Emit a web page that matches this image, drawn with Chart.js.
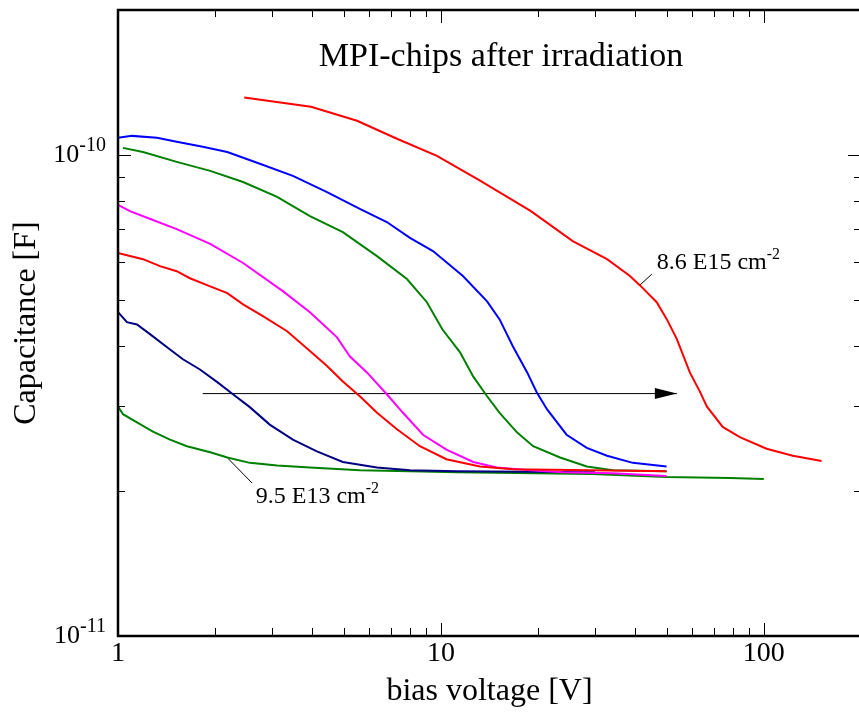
<!DOCTYPE html>
<html>
<head>
<meta charset="utf-8">
<script src="https://cdn.jsdelivr.net/npm/chart.js@4.4.1/dist/chart.umd.min.js"></script>
<style>
  html, body { margin: 0; padding: 0; background: #fff; overflow: hidden; }
  #wrap { width: 859px; height: 712px; overflow: hidden; }
</style>
</head>
<body>
<div id="wrap"><canvas id="cv" width="866" height="712"></canvas></div>
<script>
// bias voltage [V] / capacitance [F]
const redHighV = [2.46, 3.96, 5.50, 7.31, 9.72, 13.1, 19.0, 25.6, 32.7, 38.5, 41.3, 46.6, 50.1, 53.8, 59.0, 63.4, 66.6, 74.6, 84.3, 102, 123, 151];
const redHighC = [1.316e-10, 1.259e-10, 1.177e-10, 1.080e-10, 9.95e-11, 8.87e-11, 7.64e-11, 6.62e-11, 6.07e-11, 5.60e-11, 5.36e-11, 4.94e-11, 4.55e-11, 4.14e-11, 3.53e-11, 3.22e-11, 3.00e-11, 2.72e-11, 2.59e-11, 2.45e-11, 2.37e-11, 2.31e-11];

const blueV = [1.0, 1.105, 1.32, 1.52, 1.83, 2.18, 2.75, 3.48, 4.44, 5.61, 6.80, 8.02, 9.45, 11.7, 13.9, 15.2, 16.7, 18.5, 19.8, 21.3, 24.5, 28.3, 32.7, 39.3, 50];
const blueC = [1.085e-10, 1.095e-10, 1.085e-10, 1.065e-10, 1.039e-10, 1.014e-10, 9.58e-11, 9.04e-11, 8.37e-11, 7.72e-11, 7.25e-11, 6.72e-11, 6.31e-11, 5.60e-11, 4.96e-11, 4.55e-11, 4.00e-11, 3.53e-11, 3.21e-11, 2.96e-11, 2.62e-11, 2.46e-11, 2.37e-11, 2.29e-11, 2.25e-11];

const greenHighV = [1.036, 1.195, 1.52, 1.93, 2.44, 3.11, 3.93, 4.97, 6.34, 7.85, 9.05, 10.1, 11.45, 12.6, 13.9, 15.2, 17.2, 19.3, 23.4, 28.3, 34.1, 50];
const greenHighC = [1.034e-10, 1.014e-10, 9.67e-11, 9.26e-11, 8.78e-11, 8.18e-11, 7.46e-11, 6.91e-11, 6.16e-11, 5.52e-11, 4.94e-11, 4.34e-11, 3.89e-11, 3.46e-11, 3.15e-11, 2.91e-11, 2.65e-11, 2.48e-11, 2.35e-11, 2.25e-11, 2.21e-11, 2.20e-11];

const magentaV = [1.0, 1.089, 1.283, 1.52, 1.93, 2.44, 3.24, 3.93, 4.76, 5.23, 5.90, 6.80, 7.63, 8.80, 10.4, 12.6, 14.9, 18.9, 23.9, 34.1, 50];
const magentaC = [7.87e-11, 7.64e-11, 7.32e-11, 7.01e-11, 6.53e-11, 5.96e-11, 5.21e-11, 4.71e-11, 4.18e-11, 3.81e-11, 3.53e-11, 3.18e-11, 2.91e-11, 2.62e-11, 2.44e-11, 2.30e-11, 2.24e-11, 2.21e-11, 2.19e-11, 2.18e-11, 2.15e-11];

const redLowV = [1.0, 1.089, 1.195, 1.349, 1.52, 1.67, 1.93, 2.18, 2.44, 2.81, 3.34, 3.93, 4.44, 4.97, 5.61, 6.34, 7.31, 8.61, 10.4, 13.2, 16.7, 50];
const redLowC = [6.25e-11, 6.16e-11, 6.07e-11, 5.87e-11, 5.73e-11, 5.54e-11, 5.33e-11, 5.16e-11, 4.89e-11, 4.62e-11, 4.30e-11, 3.91e-11, 3.64e-11, 3.38e-11, 3.15e-11, 2.91e-11, 2.69e-11, 2.48e-11, 2.33e-11, 2.25e-11, 2.22e-11, 2.20e-11];

const navyV = [1.0, 1.066, 1.145, 1.256, 1.449, 1.589, 1.794, 2.03, 2.27, 2.56, 2.95, 3.48, 4.13, 4.97, 6.34, 8.02, 11.2, 30];
const navyC = [4.71e-11, 4.49e-11, 4.44e-11, 4.24e-11, 3.94e-11, 3.76e-11, 3.58e-11, 3.37e-11, 3.18e-11, 2.99e-11, 2.75e-11, 2.56e-11, 2.42e-11, 2.30e-11, 2.24e-11, 2.21e-11, 2.20e-11, 2.19e-11];

const greenLowV = [1.0, 1.036, 1.145, 1.283, 1.449, 1.635, 1.93, 2.18, 2.56, 3.11, 3.93, 5.61, 8.02, 11.2, 29.5, 50, 78.5, 100];
const greenLowC = [3.00e-11, 2.89e-11, 2.78e-11, 2.66e-11, 2.56e-11, 2.48e-11, 2.41e-11, 2.35e-11, 2.29e-11, 2.26e-11, 2.24e-11, 2.21e-11, 2.20e-11, 2.19e-11, 2.17e-11, 2.14e-11, 2.13e-11, 2.12e-11];

// arrow and label leaders
const arrowV = [1.83, 53.8];
const arrowC = [3.19e-11, 3.19e-11];
const lead86V = [41.3, 45.0];
const lead86C = [5.36e-11, 5.65e-11];
const lead95V = [2.19, 2.60];
const lead95C = [2.34e-11, 2.08e-11];
const label86 = { v: 46.6, c: 5.79e-11, text: "8.6 E15 cm", sup: "-2" };
const label95 = { v: 2.67, c: 1.89e-11, text: "9.5 E13 cm", sup: "-2" };

// axes
const xMajor = [1, 10, 100];
const xMinor = [2, 3, 4, 5, 6, 7, 8, 9, 20, 30, 40, 50, 60, 70, 80, 90];
const yMajor = [1e-11, 1e-10];
const yMajorSup = ["-11", "-10"];
const yMinor = [2e-11, 3e-11, 4e-11, 5e-11, 6e-11, 7e-11, 8e-11, 9e-11];

const serif = '"Liberation Serif", "Times New Roman", serif';

const pts = (xs, ys) => xs.map((x, i) => ({ x: x, y: ys[i] }));

const line = (xs, ys, color, width) => ({
  data: pts(xs, ys),
  borderColor: color,
  borderWidth: width,
  pointRadius: 0,
  tension: 0,
  fill: false,
  clip: false,
  showLine: true,
});

const supText = (ctx, text, sup, x, y, size, supSize, rise) => {
  ctx.textAlign = "left";
  ctx.textBaseline = "alphabetic";
  ctx.font = size + "px " + serif;
  ctx.fillText(text, x, y);
  const w = ctx.measureText(text).width;
  ctx.font = supSize + "px " + serif;
  ctx.fillText(sup, x + w, y - rise);
};

// frame, inside ticks, y labels, title text, arrowhead and labels
const decor = {
  id: "decor",
  afterDraw(chart) {
    const ctx = chart.ctx;
    const { left, right, top, bottom } = chart.chartArea;
    const xs = chart.scales.x;
    const ys = chart.scales.y;
    ctx.save();
    ctx.strokeStyle = "#000";
    ctx.fillStyle = "#000";

    // ticks
    ctx.lineWidth = 1;
    ctx.beginPath();
    xMajor.forEach((v) => {
      const px = Math.round(xs.getPixelForValue(v)) + 0.5;
      ctx.moveTo(px, bottom); ctx.lineTo(px, bottom - 13);
      ctx.moveTo(px, top); ctx.lineTo(px, top + 13);
    });
    xMinor.forEach((v) => {
      const px = Math.round(xs.getPixelForValue(v)) + 0.5;
      ctx.moveTo(px, bottom); ctx.lineTo(px, bottom - 8);
      ctx.moveTo(px, top); ctx.lineTo(px, top + 7);
    });
    yMajor.forEach((v) => {
      const py = Math.round(ys.getPixelForValue(v)) + 0.5;
      ctx.moveTo(left, py); ctx.lineTo(left + 13, py);
      ctx.moveTo(right, py); ctx.lineTo(right - 13, py);
    });
    yMinor.forEach((v) => {
      const py = Math.round(ys.getPixelForValue(v)) + 0.5;
      ctx.moveTo(left, py); ctx.lineTo(left + 7, py);
      ctx.moveTo(right, py); ctx.lineTo(right - 7, py);
    });
    ctx.stroke();

    // frame: left, top, bottom (the right side sits past the window edge)
    ctx.lineWidth = 2.5;
    ctx.beginPath();
    ctx.moveTo(right + 4, top);
    ctx.lineTo(left, top);
    ctx.lineTo(left, bottom);
    ctx.lineTo(right + 4, bottom);
    ctx.stroke();

    // y tick labels 10^n
    yMajor.forEach((v, i) => {
      const py = ys.getPixelForValue(v);
      ctx.font = "20px " + serif;
      const sw = ctx.measureText(yMajorSup[i]).width;
      ctx.font = "26px " + serif;
      const bw = ctx.measureText("10").width;
      supText(ctx, "10", yMajorSup[i], left - 12 - sw - bw, py + 7, 26, 20, 11);
    });

    // title inside the plot
    ctx.font = "34px " + serif;
    ctx.textAlign = "center";
    ctx.textBaseline = "alphabetic";
    ctx.fillText("MPI-chips after irradiation", 501, 66);

    // arrowhead
    const tx = xs.getPixelForValue(arrowV[1]);
    const ty = ys.getPixelForValue(arrowC[1]);
    ctx.beginPath();
    ctx.moveTo(tx, ty);
    ctx.lineTo(tx - 22, ty - 5.5);
    ctx.lineTo(tx - 22, ty + 5.5);
    ctx.closePath();
    ctx.fill();

    // fluence labels
    [label86, label95].forEach((l) => {
      supText(ctx, l.text, l.sup, xs.getPixelForValue(l.v), ys.getPixelForValue(l.c), 24, 16, 10);
    });
    ctx.restore();
  },
};

new Chart(document.getElementById("cv"), {
  type: "scatter",
  data: {
    datasets: [
      line(redHighV, redHighC, "#ff0000", 2),
      line(redLowV, redLowC, "#ff0000", 2),
      line(blueV, blueC, "#0000ff", 2),
      line(magentaV, magentaC, "#ff00ff", 2),
      line(navyV, navyC, "#000080", 2),
      line(greenHighV, greenHighC, "#008000", 2),
      line(greenLowV, greenLowC, "#008000", 2),
      line(arrowV, arrowC, "#000000", 1),
      line(lead86V, lead86C, "#000000", 1),
      line(lead95V, lead95C, "#000000", 1),
    ],
  },
  options: {
    responsive: false,
    animation: false,
    devicePixelRatio: 1,
    layout: { padding: { top: 10, right: 5, left: 0, bottom: 0 } },
    plugins: { legend: { display: false }, tooltip: { enabled: false } },
    scales: {
      x: {
        type: "logarithmic",
        min: 1,
        max: 200,
        grid: { display: false, drawTicks: false },
        border: { display: false },
        afterBuildTicks: (s) => { s.ticks = xMajor.map((v) => ({ value: v })); },
        afterFit: (s) => {
          s.height = 76;
          s.paddingLeft = 0;
          s.paddingRight = 0;
        },
        ticks: {
          callback: (v) => String(v),
          font: { family: serif, size: 28 },
          color: "#000",
          padding: 1,
          maxRotation: 0,
          autoSkip: false,
        },
        title: {
          display: true,
          text: "bias voltage [V]",
          font: { family: serif, size: 32 },
          color: "#000",
          padding: { top: 0, bottom: 1 },
        },
      },
      y: {
        type: "logarithmic",
        min: 1e-11,
        max: 2e-10,
        grid: { display: false, drawTicks: false },
        border: { display: false },
        ticks: { display: false },
        afterFit: (s) => {
          s.width = 118;
          s.paddingTop = 0;
          s.paddingBottom = 0;
        },
        title: {
          display: true,
          text: "Capacitance [F]",
          font: { family: serif, size: 32 },
          color: "#000",
          padding: { top: 7, bottom: 0 },
        },
      },
    },
  },
  plugins: [decor],
});
</script>
</body>
</html>
